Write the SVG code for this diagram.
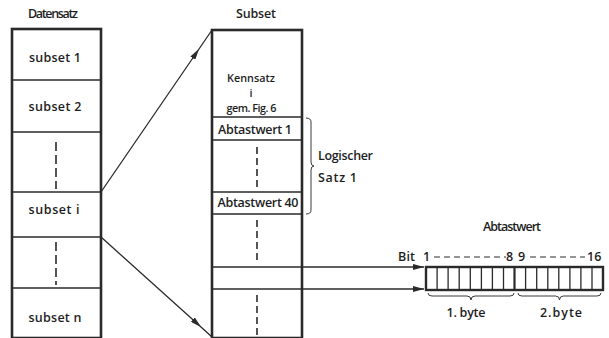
<svg xmlns="http://www.w3.org/2000/svg" width="609" height="338" viewBox="0 0 609 338">
<style>
text{font-family:"Open Sans","Liberation Sans",Arial,sans-serif;font-size:12.5px;font-weight:600;fill:#1e1e1e}
.m{text-anchor:middle}
.k{font-size:10.8px}
.box{fill:none;stroke:#2a2a2a;stroke-width:2.6}
.div{stroke:#2a2a2a;stroke-width:1.3}
.dash{stroke:#2a2a2a;stroke-width:1.6;stroke-dasharray:8 4}
.conn{fill:none;stroke:#2a2a2a;stroke-width:1.3}
.brace{fill:none;stroke:#3a3a3a;stroke-width:1}
.cell{stroke:#2a2a2a;stroke-width:1.3}
</style>
<defs>
<marker id="ah" viewBox="0 0 11 6" refX="11" refY="3" markerWidth="11" markerHeight="6" markerUnits="userSpaceOnUse" orient="auto">
<path d="M0,0 L11,3 L0,6 Z" fill="#2a2a2a"/>
</marker>
</defs>
<rect width="609" height="338" fill="#fff"/>

<g id="datensatz">
<text class="m" x="53" y="18" font-size="11" textLength="50">Datensatz</text>
<rect class="box" x="12" y="29" width="89" height="309"/>
<line class="div" x1="12" y1="80" x2="101" y2="80"/>
<line class="div" x1="12" y1="132" x2="101" y2="132"/>
<line class="div" x1="12" y1="192" x2="101" y2="192"/>
<line class="div" x1="12" y1="237" x2="101" y2="237"/>
<line class="div" x1="12" y1="288" x2="101" y2="288"/>
<text class="m" x="55" y="62" textLength="52">subset 1</text>
<text class="m" x="55" y="111" textLength="53">subset 2</text>
<line class="dash" x1="56" y1="142" x2="56" y2="189" style="stroke-dasharray:9 4"/>
<text class="m" x="54" y="214" textLength="51">subset i</text>
<line class="dash" x1="56" y1="242" x2="56" y2="285" style="stroke-dasharray:9 4"/>
<text class="m" x="55" y="322" textLength="53">subset n</text>
</g>

<g id="subset">
<text class="m" x="256" y="18" font-size="11" textLength="40">Subset</text>
<rect class="box" x="212" y="30" width="90" height="308"/>
<line class="div" x1="212" y1="117" x2="302" y2="117"/>
<line class="div" x1="212" y1="140" x2="302" y2="140"/>
<line class="div" x1="212" y1="192" x2="302" y2="192"/>
<line class="div" x1="212" y1="214" x2="302" y2="214"/>
<line class="div" x1="212" y1="267" x2="302" y2="267"/>
<line class="div" x1="212" y1="289" x2="302" y2="289"/>
<text class="m k" x="251" y="82">Kennsatz</text>
<text class="m k" x="251" y="97">i</text>
<text class="m k" x="251.5" y="112" textLength="50">gem. Fig. 6</text>
<text class="m" x="255" y="134" textLength="74">Abtastwert 1</text>
<line class="dash" x1="257" y1="147" x2="257" y2="187" style="stroke-dasharray:7 4"/>
<text class="m" x="258" y="207" textLength="81">Abtastwert 40</text>
<line class="dash" x1="257" y1="220" x2="257" y2="261" style="stroke-dasharray:7 4"/>
<line class="dash" x1="257" y1="295" x2="257" y2="336" style="stroke-dasharray:7 4"/>
</g>

<g id="logischer-satz">
<path class="brace" d="M306,118 q5,0 5,4 v40 q0,4 3,4 q-3,0 -3,4 v40 q0,4 -5,4"/>
<text x="318" y="160" textLength="55">Logischer</text>
<text x="318" y="182" textLength="39">Satz 1</text>
</g>

<g id="abtastwert">
<text class="m" x="512" y="231" font-size="11" textLength="58">Abtastwert</text>
<text x="398" y="261" textLength="17">Bit</text>
<text x="423" y="261">1</text>
<line class="dash" x1="434" y1="257" x2="506" y2="257" style="stroke-width:1;stroke-dasharray:6 4"/>
<text x="506" y="261">8</text>
<text x="518" y="261">9</text>
<line class="dash" x1="530" y1="257" x2="585" y2="257" style="stroke-width:1;stroke-dasharray:6 4"/>
<text x="587" y="261">16</text>
<rect x="426" y="267" width="177" height="23" fill="none" stroke="#2a2a2a" stroke-width="2.4"/>
<g class="cell">
<line x1="437.1" y1="267" x2="437.1" y2="290"/>
<line x1="448.1" y1="267" x2="448.1" y2="290"/>
<line x1="459.2" y1="267" x2="459.2" y2="290"/>
<line x1="470.3" y1="267" x2="470.3" y2="290"/>
<line x1="481.4" y1="267" x2="481.4" y2="290"/>
<line x1="492.4" y1="267" x2="492.4" y2="290"/>
<line x1="503.5" y1="267" x2="503.5" y2="290"/>
<line x1="514.5" y1="267" x2="514.5" y2="290" stroke-width="2.2"/>
<line x1="525.6" y1="267" x2="525.6" y2="290"/>
<line x1="536.7" y1="267" x2="536.7" y2="290"/>
<line x1="547.8" y1="267" x2="547.8" y2="290"/>
<line x1="558.8" y1="267" x2="558.8" y2="290"/>
<line x1="569.9" y1="267" x2="569.9" y2="290"/>
<line x1="580.9" y1="267" x2="580.9" y2="290"/>
<line x1="592" y1="267" x2="592" y2="290"/>
</g>
<path class="brace" d="M428,293 q0,3 4,3 h35 q4,0 4,4 q0,-4 4,-4 h35 q4,0 4,-3"/>
<path class="brace" d="M518,293 q0,3 4,3 h33.5 q4,0 4,4 q0,-4 4,-4 h33.5 q4,0 4,-3"/>
<text class="m" x="466" y="317" textLength="39">1. byte</text>
<text class="m" x="561" y="317" textLength="42">2.byte</text>
</g>

<g id="connectors">
<path class="conn" d="M101,192 L199,49 L212,30" marker-mid="url(#ah)"/>
<path class="conn" d="M101,237 L201,327 L212,337" marker-mid="url(#ah)"/>
<line class="conn" x1="302" y1="267" x2="424" y2="267" marker-end="url(#ah)"/>
<line class="conn" x1="302" y1="289" x2="424" y2="289" marker-end="url(#ah)"/>
</g>
</svg>
